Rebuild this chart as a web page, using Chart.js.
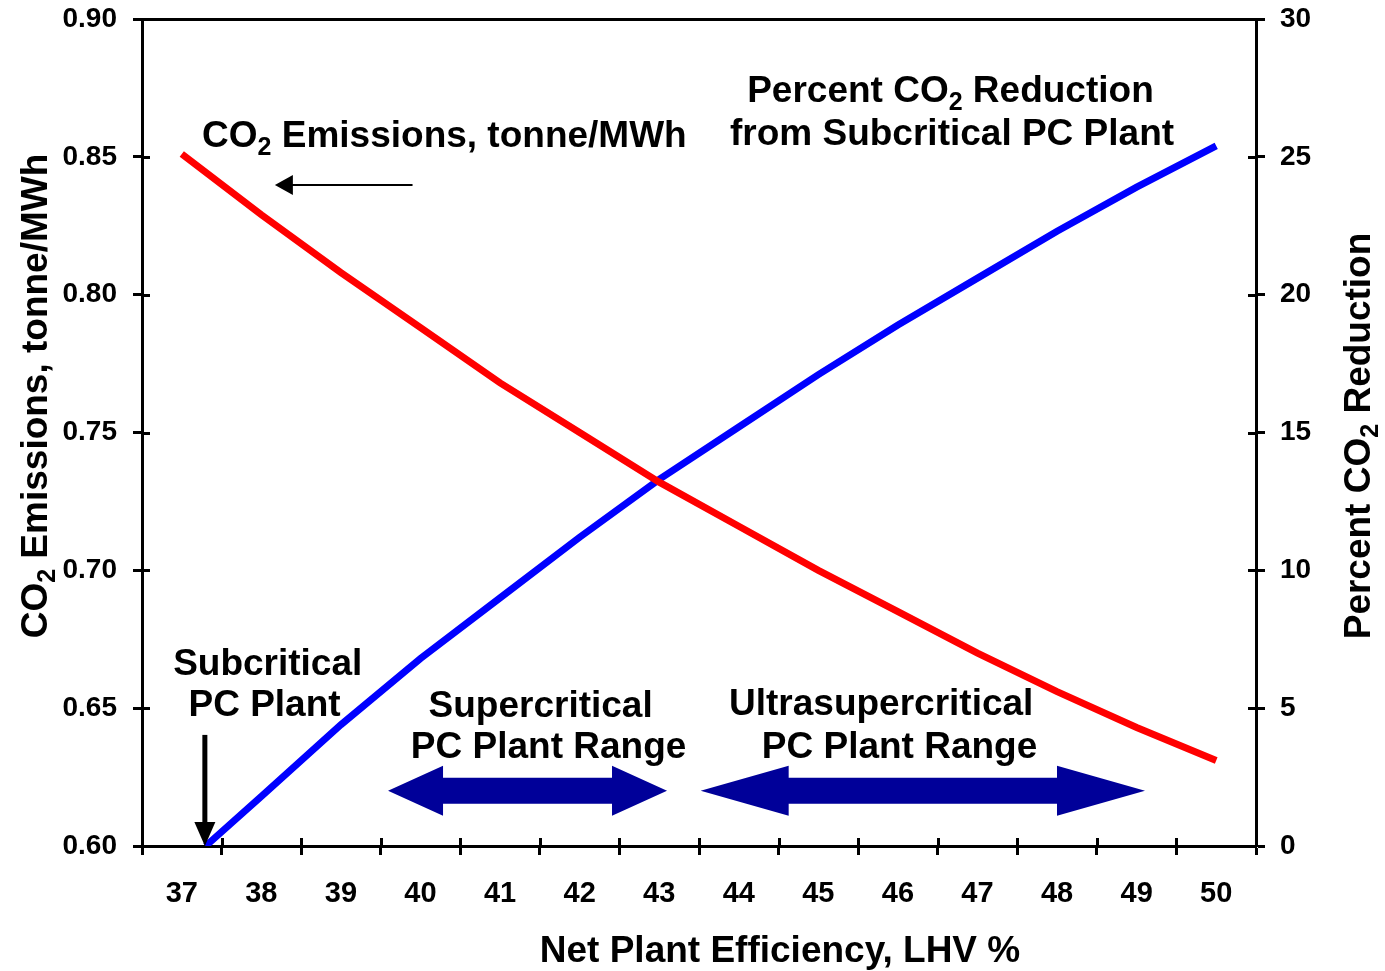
<!DOCTYPE html>
<html>
<head>
<meta charset="utf-8">
<script src="https://cdn.jsdelivr.net/npm/chart.js@4.4.1/dist/chart.umd.min.js"></script>
<style>
html,body{margin:0;padding:0;background:#ffffff;}
canvas{display:block;}
</style>
</head>
<body>
<canvas id="c" width="1385" height="971"></canvas>
<script>
// ---- data ----
const efficiency     = [37, 38, 39, 40, 41, 42, 43, 44, 45, 46, 47, 48, 49, 50];
const co2Emissions   = [0.851, 0.829, 0.808, 0.788, 0.768, 0.750, 0.732, 0.716, 0.700, 0.685, 0.670, 0.656, 0.643, 0.631];
const reductionEff   = [37.3, 38, 39, 40, 41, 42, 43, 44, 45, 46, 47, 48, 49, 50];
const co2Reduction   = [0, 1.8, 4.4, 6.8, 9.0, 11.2, 13.3, 15.2, 17.1, 18.9, 20.6, 22.3, 23.9, 25.4];
const xTickLabels    = [37, 38, 39, 40, 41, 42, 43, 44, 45, 46, 47, 48, 49, 50];
const leftTicks      = [0.60, 0.65, 0.70, 0.75, 0.80, 0.85, 0.90];
const rightTicks     = [0, 5, 10, 15, 20, 25, 30];

// tick marks sit between the category labels
const xMarkTicks = xTickLabels.map(v => v - 0.5).concat([xTickLabels[xTickLabels.length - 1] + 0.5]);
const xAllTicks = xMarkTicks.concat(xTickLabels).sort((a, b) => a - b);
const isLabelTick = v => Math.abs(v - Math.round(v)) < 1e-9;

const FONT = '"Liberation Sans", Arial, Helvetica, sans-serif';

// ---- annotations (anchored in data units: x = efficiency, y = left axis) ----
const textNotes = [
  { parts: [['CO'], ['2', 1], [' Emissions, tonne/MWh']], x: 40.30, y: 0.8536 },
  { parts: [['Percent CO'], ['2', 1], [' Reduction']], x: 46.66, y: 0.8699 },
  { parts: [['from Subcritical PC Plant']], x: 46.68, y: 0.8543 },
  { parts: [['Subcritical']], x: 38.08, y: 0.6620 },
  { parts: [['PC Plant']], x: 38.04, y: 0.6472 },
  { parts: [['Supercritical']], x: 41.51, y: 0.6468 },
  { parts: [['PC Plant Range']], x: 41.61, y: 0.6319 },
  { parts: [['Ultrasupercritical']], x: 45.79, y: 0.6475 },
  { parts: [['PC Plant Range']], x: 46.02, y: 0.6319 }
];
const rangeArrows = [
  { from: 39.592, to: 43.098, y: 0.6200, head: 55 },
  { from: 43.521, to: 49.105, y: 0.6200, head: 88 }
];

function richText(ctx, parts, x, y, size, align, rot) {
  ctx.save();
  ctx.translate(x, y);
  if (rot) ctx.rotate(rot);
  const main = 'bold ' + size + 'px ' + FONT;
  const sub = 'bold ' + Math.round(size * 0.68) + 'px ' + FONT;
  let w = 0;
  const widths = parts.map(p => { ctx.font = p[1] ? sub : main; const m = ctx.measureText(p[0]).width; w += m; return m; });
  let cx = align === 'center' ? -w / 2 : (align === 'right' ? -w : 0);
  ctx.textBaseline = 'alphabetic';
  ctx.textAlign = 'left';
  ctx.fillStyle = '#000';
  parts.forEach((p, i) => {
    ctx.font = p[1] ? sub : main;
    ctx.fillText(p[0], cx, p[1] ? size * 0.22 : 0);
    cx += widths[i];
  });
  ctx.restore();
}

const noPad = s => { s.paddingTop = 0; s.paddingBottom = 0; s.paddingLeft = 0; s.paddingRight = 0; };

const decor = {
  id: 'decor',
  afterDraw(chart) {
    const { ctx, chartArea: a, scales } = chart;
    const x = scales.x, y = scales.y, y1 = scales.y1;
    ctx.save();
    // top frame line
    ctx.strokeStyle = '#000';
    ctx.lineWidth = 3;
    ctx.beginPath();
    ctx.moveTo(a.left - 1, a.top + 0.5);
    ctx.lineTo(a.right + 2, a.top + 0.5);
    ctx.stroke();
    // inner halves of the crossing tick marks
    ctx.beginPath();
    x.ticks.forEach(t => {
      if (isLabelTick(t.value)) return;
      const px = Math.round(x.getPixelForValue(t.value)) + 0.5;
      ctx.moveTo(px, a.bottom); ctx.lineTo(px, a.bottom - 8);
    });
    y.ticks.forEach(t => {
      const py = Math.round(y.getPixelForValue(t.value)) + 0.5;
      ctx.moveTo(a.left, py); ctx.lineTo(a.left + 8, py);
    });
    y1.ticks.forEach(t => {
      const py = Math.round(y1.getPixelForValue(t.value)) + 0.5;
      ctx.moveTo(a.right, py); ctx.lineTo(a.right - 8, py);
    });
    ctx.stroke();

    // thin arrow pointing to the red curve
    const ay = y.getPixelForValue(0.8398);
    const ax1 = x.getPixelForValue(39.90), ax2 = x.getPixelForValue(38.17);
    ctx.lineWidth = 2;
    ctx.beginPath(); ctx.moveTo(ax1, ay); ctx.lineTo(ax2 + 12, ay); ctx.stroke();
    ctx.fillStyle = '#000';
    ctx.beginPath(); ctx.moveTo(ax2, ay); ctx.lineTo(ax2 + 18, ay - 10); ctx.lineTo(ax2 + 18, ay + 10); ctx.closePath(); ctx.fill();

    // down arrow to subcritical point
    const dx = x.getPixelForValue(37.29);
    const dTop = y.getPixelForValue(0.6403), dTip = y.getPixelForValue(0.60);
    ctx.fillRect(dx - 2.5, dTop, 5, dTip - dTop - 20);
    ctx.beginPath(); ctx.moveTo(dx, dTip); ctx.lineTo(dx - 10.5, dTip - 24); ctx.lineTo(dx + 10.5, dTip - 24); ctx.closePath(); ctx.fill();

    // navy double arrows
    ctx.fillStyle = '#000099';
    rangeArrows.forEach(r => {
      const x1 = x.getPixelForValue(r.from), x2 = x.getPixelForValue(r.to), yc = y.getPixelForValue(r.y);
      const h = r.head, hh = 25, sh = 13;
      ctx.beginPath();
      ctx.moveTo(x1, yc);
      ctx.lineTo(x1 + h, yc - hh); ctx.lineTo(x1 + h, yc - sh);
      ctx.lineTo(x2 - h, yc - sh); ctx.lineTo(x2 - h, yc - hh);
      ctx.lineTo(x2, yc);
      ctx.lineTo(x2 - h, yc + hh); ctx.lineTo(x2 - h, yc + sh);
      ctx.lineTo(x1 + h, yc + sh); ctx.lineTo(x1 + h, yc + hh);
      ctx.closePath(); ctx.fill();
    });

    // annotation texts
    textNotes.forEach(n => {
      richText(ctx, n.parts, x.getPixelForValue(n.x), y.getPixelForValue(n.y), 37, 'center', 0);
    });

    // axis titles
    richText(ctx, [['CO'], ['2', 1], [' Emissions, tonne/MWh']], a.left - 95, a.top + 377, 37, 'center', -Math.PI / 2);
    richText(ctx, [['Percent CO'], ['2', 1], [' Reduction']], a.right + 114, a.top + 417, 37, 'center', -Math.PI / 2);
    richText(ctx, [['Net Plant Efficiency, LHV %']], a.left + 638, a.bottom + 116, 37, 'center', 0);
    ctx.restore();
  }
};

new Chart(document.getElementById('c'), {
  type: 'line',
  data: {
    datasets: [
      {
        label: 'CO2 Emissions, tonne/MWh',
        data: efficiency.map((v, i) => ({ x: v, y: co2Emissions[i] })),
        yAxisID: 'y',
        borderColor: '#ff0000',
        borderWidth: 7,
        pointRadius: 0,
        tension: 0,
        fill: false
      },
      {
        label: 'Percent CO2 Reduction from Subcritical PC Plant',
        data: reductionEff.map((v, i) => ({ x: v, y: co2Reduction[i] })),
        yAxisID: 'y1',
        borderColor: '#0000ff',
        borderWidth: 7,
        pointRadius: 0,
        tension: 0,
        fill: false
      }
    ]
  },
  options: {
    responsive: false,
    animation: false,
    devicePixelRatio: 1,
    layout: { padding: { top: 19, left: 0, right: 0, bottom: 0 } },
    plugins: { legend: { display: false }, tooltip: { enabled: false } },
    scales: {
      x: {
        type: 'linear',
        position: 'bottom',
        min: xMarkTicks[0],
        max: xMarkTicks[xMarkTicks.length - 1],
        afterBuildTicks: s => { s.ticks = xAllTicks.map(v => ({ value: v })); },
        afterFit: s => { s.height = 125; noPad(s); },
        ticks: {
          autoSkip: false, maxRotation: 0, minRotation: 0, padding: 22, color: '#000',
          font: { family: FONT, size: 29, weight: 'bold' },
          callback: v => isLabelTick(v) ? String(Math.round(v)) : ''
        },
        grid: {
          drawOnChartArea: false, drawTicks: true, tickLength: 9, tickWidth: 3,
          tickColor: c => (c.tick && isLabelTick(c.tick.value)) ? 'rgba(0,0,0,0)' : '#000'
        },
        border: { display: true, color: '#000', width: 3 }
      },
      y: {
        type: 'linear',
        position: 'left',
        min: leftTicks[0],
        max: leftTicks[leftTicks.length - 1],
        afterBuildTicks: s => { s.ticks = leftTicks.map(v => ({ value: v })); },
        afterFit: s => { s.width = 142; noPad(s); },
        ticks: {
          padding: 16, color: '#000',
          font: { family: FONT, size: 28, weight: 'bold' },
          callback: v => Number(v).toFixed(2)
        },
        grid: { drawOnChartArea: false, drawTicks: true, tickLength: 9, tickWidth: 3, tickColor: '#000' },
        border: { display: true, color: '#000', width: 3 }
      },
      y1: {
        type: 'linear',
        position: 'right',
        min: rightTicks[0],
        max: rightTicks[rightTicks.length - 1],
        afterBuildTicks: s => { s.ticks = rightTicks.map(v => ({ value: v })); },
        afterFit: s => { s.width = 129; noPad(s); },
        ticks: {
          padding: 15, color: '#000',
          font: { family: FONT, size: 28, weight: 'bold' },
          callback: v => String(v)
        },
        grid: { drawOnChartArea: false, drawTicks: true, tickLength: 9, tickWidth: 3, tickColor: '#000' },
        border: { display: true, color: '#000', width: 3 }
      }
    }
  },
  plugins: [decor]
});
</script>
</body>
</html>
